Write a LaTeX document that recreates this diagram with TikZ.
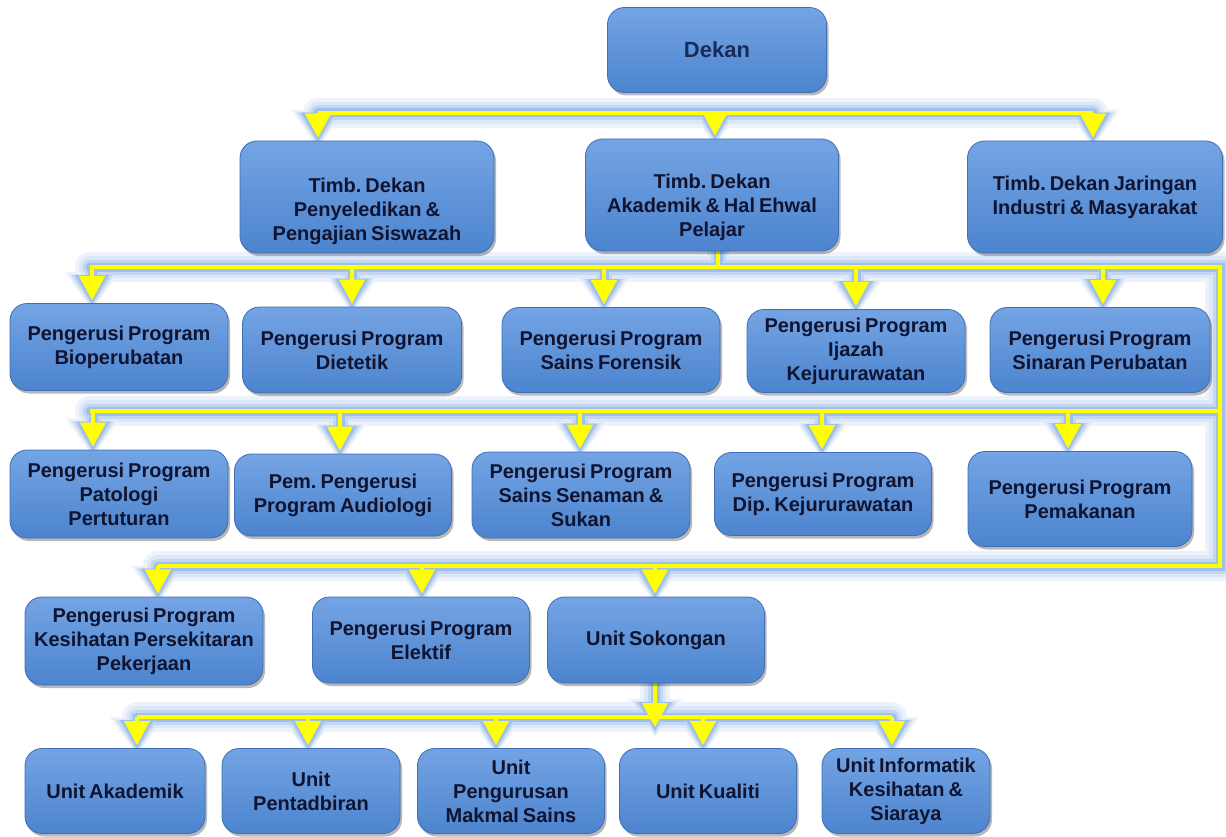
\documentclass[tikz,border=0pt]{standalone}
\usepackage{fontspec}
\setmainfont{Liberation Sans}
\usetikzlibrary{arrows.meta,shadows,backgrounds}
\definecolor{boxtop}{RGB}{116,164,228}
\definecolor{boxbot}{RGB}{76,132,206}
\definecolor{boxline}{RGB}{62,110,182}
\definecolor{txt}{RGB}{16,20,48}
\definecolor{dektxt}{RGB}{24,44,92}
\definecolor{glowA}{RGB}{238,243,251}
\definecolor{glowB}{RGB}{220,231,247}
\definecolor{glowC}{RGB}{196,214,242}
\definecolor{glowD}{RGB}{160,192,236}
\definecolor{wire}{RGB}{255,255,0}
\frenchspacing
\newcommand\dn[1]{\rule{0pt}{#1}}
\newcommand\boxfont{\fontsize{20}{24}\selectfont\bfseries\spaceskip=0.2em plus 0.1em minus 0.05em\relax}
\newcommand\wires[2]{%
 \draw[#1] (318,0 |- bus1) -- (1093,0 |- bus1);
 \draw[#1] (718,0 |- t2.south) -- (718,0 |- bus3);
 \draw[#1] (90,0 |- bus3) -- (1220,0 |- bus3) -- (1220,0 |- bus5) -- (158,0 |- bus5);
 \draw[#1] (90,0 |- bus4) -- (1220,0 |- bus4);
 \draw[#1] (137,0 |- bus6) -- (892,0 |- bus6);
 \draw[#2] (318,0 |- bus1) -- (318,0 |- t1.north);
 \draw[#2] (715,0 |- bus1) -- (715,0 |- t2.north);
 \draw[#2] (1093,0 |- bus1) -- (1093,0 |- t3.north);
 \draw[#2] (92,0 |- bus3) -- (92,0 |- b1.north);
 \draw[#2] (352,0 |- bus3) -- (352,0 |- b2.north);
 \draw[#2] (604,0 |- bus3) -- (604,0 |- b3.north);
 \draw[#2] (856,0 |- bus3) -- (856,0 |- b4.north);
 \draw[#2] (1103,0 |- bus3) -- (1103,0 |- b5.north);
 \draw[#2] (93,0 |- bus4) -- (93,0 |- c1.north);
 \draw[#2] (340,0 |- bus4) -- (340,0 |- c2.north);
 \draw[#2] (580,0 |- bus4) -- (580,0 |- c3.north);
 \draw[#2] (822,0 |- bus4) -- (822,0 |- c4.north);
 \draw[#2] (1068,0 |- bus4) -- (1068,0 |- c5.north);
 \draw[#2] (158,0 |- bus5) -- (158,0 |- d1.north);
 \draw[#2] (422,0 |- bus5) -- (422,0 |- d2.north);
 \draw[#2] (655,0 |- bus5) -- (655,0 |- d3.north);
 \draw[#2] (655,0 |- d3.south) -- (sokend);
 \draw[#2] (137,0 |- bus6) -- (137,0 |- e1.north);
 \draw[#2] (308,0 |- bus6) -- (308,0 |- e2.north);
 \draw[#2] (496,0 |- bus6) -- (496,0 |- e3.north);
 \draw[#2] (703,0 |- bus6) -- (703,0 |- e4.north);
 \draw[#2] (892,0 |- bus6) -- (892,0 |- e5.north);
}
\tikzset{
 box/.style={draw=boxline, line width=0.8pt, rounded corners=17pt,
   top color=boxtop, bottom color=boxbot, text=txt, align=center, inner sep=0pt,
   font=\boxfont,
   drop shadow={shadow xshift=2pt, shadow yshift=-3pt, fill=black, opacity=0.28}},
 sz/.style 2 args={minimum width=#1pt, minimum height=#2pt},
 glA/.style={draw=glowA, line width=30pt, line cap=round},
 glAarr/.style={draw=glowA, line width=30pt, shorten >=-7pt,
   -{Triangle[width=54pt,length=38pt,line width=0pt]}},
 glB/.style={draw=glowB, line width=22pt, line cap=round},
 glBarr/.style={draw=glowB, line width=22pt, shorten >=-5pt,
   -{Triangle[width=46pt,length=34pt,line width=0pt]}},
 glC/.style={draw=glowC, line width=15pt, line cap=round},
 glCarr/.style={draw=glowC, line width=15pt, shorten >=-3pt,
   -{Triangle[width=40pt,length=31pt,line width=0pt]}},
 glD/.style={draw=glowD, line width=9pt, line cap=round},
 glDarr/.style={draw=glowD, line width=9pt, shorten >=-1pt,
   -{Triangle[width=34pt,length=29pt,line width=0pt]}},
 yl/.style={draw=wire, line width=4pt},
 yarr/.style={draw=wire, line width=4pt, shorten >=3pt,
   -{Triangle[width=26pt,length=24pt,line width=0pt]}},
}
\begin{document}
\begin{tikzpicture}[x=1pt,y=-1pt]
\useasboundingbox (0,0) rectangle (1226,837);
\coordinate (bus1) at (0,113);
\coordinate (bus3) at (0,267);
\coordinate (bus4) at (0,411);
\coordinate (bus5) at (0,566);
\coordinate (bus6) at (0,717);
\coordinate (sokend) at (655,730);

\node[box, sz={219}{85}, text=dektxt, font=\fontsize{22}{26}\selectfont\bfseries] (dekan) at (717,50) {Dekan};

\node[box, sz={254}{112}] (t1) at (367,197) {\dn{44pt}Timb. Dekan\\Penyeledikan \&\\Pengajian Siswazah};
\node[box, sz={253}{112}] (t2) at (712,195) {\dn{40pt}Timb. Dekan\\Akademik \& Hal Ehwal\\Pelajar};
\node[box, sz={255}{112}] (t3) at (1095,197) {Timb. Dekan Jaringan\\Industri \& Masyarakat};

\node[box, sz={218}{87}] (b1) at (119,347) {Pengerusi Program\\Bioperubatan};
\node[box, sz={219}{86}] (b2) at (352,350) {Pengerusi Program\\Dietetik};
\node[box, sz={218}{85}] (b3) at (611,350) {Pengerusi Program\\Sains Forensik};
\node[box, sz={218}{83}] (b4) at (856,351) {Pengerusi Program\\Ijazah\\Kejururawatan};
\node[box, sz={220}{85}] (b5) at (1100,350) {Pengerusi Program\\Sinaran Perubatan};

\node[box, sz={218}{88}] (c1) at (119,494) {Pengerusi Program\\Patologi\\Pertuturan};
\node[box, sz={217}{82}] (c2) at (343,495) {Pem. Pengerusi\\Program Audiologi};
\node[box, sz={218}{86}] (c3) at (581,495) {Pengerusi Program\\Sains Senaman \&\\Sukan};
\node[box, sz={217}{83}] (c4) at (823,494) {Pengerusi Program\\Dip. Kejururawatan};
\node[box, sz={224}{95}] (c5) at (1080,499) {Pengerusi Program\\Pemakanan};

\node[box, sz={238}{88}] (d1) at (144,641) {Pengerusi Program\\Kesihatan Persekitaran\\Pekerjaan};
\node[box, sz={217}{86}] (d2) at (421,640) {Pengerusi Program\\Elektif};
\node[box, sz={217}{86}] (d3) at (656,640) {Unit Sokongan};

\node[box, sz={180}{85}] (e1) at (115,791) {Unit Akademik};
\node[box, sz={178}{85}] (e2) at (311,791) {Unit\\Pentadbiran};
\node[box, sz={187}{85}] (e3) at (511,791) {Unit\\Pengurusan\\Makmal Sains};
\node[box, sz={177}{85}] (e4) at (708,791) {Unit Kualiti};
\node[box, sz={168}{85}] (e5) at (906,791) {Unit Informatik\\Kesihatan \&\\Siaraya};

\begin{pgfonlayer}{background}
\wires{glA}{glAarr}
\wires{glB}{glBarr}
\wires{glC}{glCarr}
\wires{glD}{glDarr}
\wires{yl}{yarr}
\end{pgfonlayer}
\end{tikzpicture}
\end{document}
